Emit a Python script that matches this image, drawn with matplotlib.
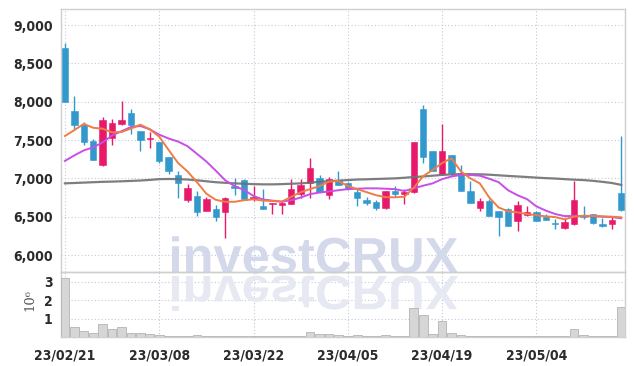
import numpy as np
import matplotlib.pyplot as plt
from matplotlib import font_manager
from matplotlib.textpath import TextPath
from matplotlib.patches import PathPatch
from matplotlib.font_manager import FontProperties
from matplotlib.transforms import Affine2D, IdentityTransform
from matplotlib.ticker import FuncFormatter

# trading days (KRX), yy/mm/dd
dates = ['23/02/21', '23/02/22', '23/02/23', '23/02/24', '23/02/27', '23/02/28',
         '23/03/02', '23/03/03', '23/03/06', '23/03/07', '23/03/08', '23/03/09',
         '23/03/10', '23/03/13', '23/03/14', '23/03/15', '23/03/16', '23/03/17',
         '23/03/20', '23/03/21', '23/03/22', '23/03/23', '23/03/24', '23/03/27',
         '23/03/28', '23/03/29', '23/03/30', '23/03/31', '23/04/03', '23/04/04',
         '23/04/05', '23/04/06', '23/04/07', '23/04/10', '23/04/11', '23/04/12',
         '23/04/13', '23/04/14', '23/04/17', '23/04/18', '23/04/19', '23/04/20',
         '23/04/21', '23/04/24', '23/04/25', '23/04/26', '23/04/27', '23/04/28',
         '23/05/02', '23/05/03', '23/05/04', '23/05/08', '23/05/09', '23/05/10',
         '23/05/11', '23/05/12', '23/05/15', '23/05/16', '23/05/17', '23/05/18']

opens = [8700, 7880, 7690, 7490, 7170, 7530, 7710, 7850, 7620, 7510,
         7480, 7280, 7050, 6720, 6770, 6580, 6600, 6560, 6900, 6980,
         6730, 6640, 6660, 6650, 6670, 6800, 6940, 7000, 6780, 6980,
         6940, 6820, 6720, 6690, 6610, 6840, 6790, 6820, 7910, 7360,
         7060, 7300, 7070, 6830, 6620, 6700, 6570, 6600, 6450, 6520,
         6560, 6500, 6420, 6350, 6400, 6510, 6530, 6400, 6400, 6810]
highs = [8760, 8080, 7730, 7520, 7800, 7780, 8010, 7910, 7620, 7600,
         7480, 7280, 7090, 6930, 6840, 6760, 6650, 6760, 7010, 6990,
         6900, 6860, 6680, 6720, 6990, 6990, 7270, 7040, 7020, 7090,
         6950, 6860, 6760, 6720, 6830, 6900, 6860, 7480, 7960, 7360,
         7710, 7310, 7180, 6960, 6740, 6730, 6570, 6610, 6710, 6640,
         6580, 6540, 6470, 6470, 6960, 6640, 6540, 6480, 6490, 7550]
lows = [8000, 7650, 7440, 7240, 7160, 7430, 7700, 7580, 7360, 7400,
        7200, 7060, 6750, 6690, 6510, 6570, 6440, 6220, 6780, 6730,
        6700, 6600, 6540, 6530, 6670, 6750, 6750, 6820, 6730, 6920,
        6850, 6640, 6650, 6590, 6600, 6760, 6670, 6810, 7200, 7090,
        7050, 7030, 6830, 6680, 6570, 6510, 6250, 6380, 6310, 6510,
        6440, 6460, 6340, 6340, 6390, 6470, 6400, 6360, 6340, 6580]
closes = [8000, 7690, 7470, 7240, 7760, 7720, 7760, 7700, 7500, 7530,
          7230, 7090, 6940, 6880, 6560, 6730, 6500, 6750, 6880, 6730,
          6750, 6600, 6680, 6680, 6860, 6910, 7140, 6820, 6990, 6920,
          6860, 6750, 6680, 6620, 6830, 6800, 6820, 7470, 7280, 7100,
          7360, 7070, 6830, 6680, 6710, 6510, 6500, 6380, 6650, 6560,
          6440, 6460, 6400, 6430, 6720, 6500, 6420, 6380, 6460, 6590]

ma_short = [7553, 7630, 7710, 7660, 7648, 7600, 7605, 7650, 7700, 7640,
            7544, 7370, 7200, 7090, 6950, 6800, 6720, 6695, 6695, 6715,
            6727, 6710, 6705, 6696, 6760, 6820, 6860, 6900, 6957, 6966,
            6900, 6860, 6820, 6780, 6755, 6753, 6760, 6880, 7030, 7110,
            7200, 7262, 7090, 7000, 6935, 6750, 6620, 6570, 6557, 6535,
            6520, 6505, 6495, 6466, 6500, 6513, 6509, 6505, 6500, 6492]
ma_mid = [7228, 7300, 7365, 7405, 7470, 7560, 7615, 7670, 7683, 7640,
          7570, 7520, 7480, 7420, 7320, 7220, 7100, 6975, 6900, 6848,
          6770, 6725, 6710, 6696, 6715, 6750, 6795, 6815, 6830, 6845,
          6860, 6865, 6870, 6870, 6865, 6860, 6835, 6870, 6905, 6935,
          6990, 7025, 7044, 7044, 7035, 6995, 6950, 6845, 6780, 6730,
          6635, 6580, 6535, 6508, 6509, 6509, 6507, 6500, 6495, 6480]
ma_long = [6935, 6940, 6945, 6950, 6955, 6958, 6962, 6967, 6972, 6980,
           6990, 6992, 6990, 6985, 6975, 6962, 6950, 6942, 6935, 6930,
           6925, 6922, 6922, 6925, 6930, 6935, 6945, 6955, 6965, 6970,
           6978, 6985, 6988, 6992, 6996, 7000, 7008, 7018, 7025, 7035,
           7045, 7052, 7055, 7055, 7053, 7048, 7040, 7032, 7025, 7018,
           7010, 7003, 6998, 6990, 6983, 6978, 6968, 6955, 6940, 6915]

# volume in millions of shares
volume = [3.24, 0.54, 0.31, 0.20, 0.70, 0.42, 0.54, 0.20, 0.20, 0.15,
          0.13, 0.07, 0.04, 0.04, 0.09, 0.03, 0.03, 0.04, 0.03, 0.03,
          0.03, 0.03, 0.03, 0.03, 0.07, 0.03, 0.25, 0.17, 0.17, 0.11,
          0.06, 0.09, 0.04, 0.04, 0.09, 0.04, 0.04, 1.58, 1.21, 0.17,
          0.88, 0.22, 0.09, 0.05, 0.04, 0.04, 0.03, 0.03, 0.03, 0.03,
          0.03, 0.03, 0.03, 0.03, 0.44, 0.11, 0.06, 0.05, 0.03, 1.64]

price_ticks = [6000, 6500, 7000, 7500, 8000, 8500, 9000]
vol_ticks = [1, 2, 3]

UP = '#e8186a'
DOWN = '#3399cc'
GRID = '#c3c8dc'
TXT = '#2b2b2b'

# pick a narrow font for the tick labels if one is installed
fonts = font_manager.fontManager.ttflist
names = {f.name for f in fonts}
if 'Liberation Sans Narrow' in names:
    tick_kw = dict(family=['Liberation Sans Narrow', 'DejaVu Sans'], weight='bold',
                   size=11)
elif any(f.name == 'DejaVu Sans' and f.stretch == 'condensed' for f in fonts):
    tick_kw = dict(family=['DejaVu Sans'], stretch='condensed', weight='bold', size=10)
else:
    tick_kw = dict(family=['Roboto', 'DejaVu Sans'], weight='medium', size=10.5)

fig = plt.figure(figsize=(6.34, 3.66), dpi=100)
ax = fig.add_axes([61 / 634, 1 - 272 / 366, 564 / 634, 263 / 366])
axv = fig.add_axes([61 / 634, 1 - 337 / 366, 564 / 634, 65 / 366], sharex=ax)

x = np.arange(len(dates))
o = np.array(opens)
c = np.array(closes)
colors = [UP if cc >= oo else DOWN for oo, cc in zip(o, c)]

# candles
ax.vlines(x, lows, highs, colors=colors, linewidth=1.0, zorder=3)
body_low = np.minimum(o, c)
body_h = np.maximum(np.abs(c - o), 22)
ax.bar(x, body_h, bottom=body_low, width=0.68, color=colors, edgecolor=colors,
       linewidth=0.4, zorder=4)

# moving averages
ax.plot(x, ma_long, color='#707070', linewidth=1.6, alpha=0.9, zorder=5)
ax.plot(x, ma_mid, color='#c84ee8', linewidth=1.4, zorder=5)
ax.plot(x, ma_short, color='#ee7d45', linewidth=1.4, zorder=6)

ax.set_xlim(-0.42, 59.4)
ax.set_ylim(5779, 9209)
ax.set_yticks(price_ticks)
ax.yaxis.set_major_formatter(FuncFormatter(lambda v, p: f'{int(v):,}'))

# volume
axv.bar(x, volume, width=0.92, color='#d6d6d6', edgecolor='#b4b4b4',
        linewidth=0.6, zorder=3)
axv.set_ylim(0, 3.54)
axv.set_yticks(vol_ticks)
axv.set_xticks(x[::10])
axv.set_xticklabels(dates[::10])

for a in (ax, axv):
    a.grid(True, color=GRID, linestyle=(0, (1, 2)), linewidth=0.8, zorder=0)
    a.set_axisbelow(True)
    for s in a.spines.values():
        s.set_color('#cfcfcf')
        s.set_linewidth(1.0)
    a.tick_params(length=0, pad=6, labelcolor=TXT)
    for lab in a.get_yticklabels() + a.get_xticklabels():
        lab.set(**tick_kw)
ax.tick_params(labelbottom=False)
axv.tick_params(axis='x', pad=8)
axv.patch.set_alpha(0)

fig.text(30 / 634, 1 - 300 / 366, '10⁶', rotation=90, ha='center', va='center',
         family='DejaVu Serif', fontsize=9.5, color='#555555')

# watermark and its reflection
fp = FontProperties(family=['Liberation Sans', 'DejaVu Sans'], weight='bold')
tp = TextPath((0, 0), 'investCRUX', size=50, prop=fp)
ext = tp.get_extents()
sc = 286 / ext.width
base = 366 - 273
wm = Affine2D().translate(-ext.x0, 0).scale(sc, sc).translate(172, base)
ax.add_patch(PathPatch(wm.transform_path(tp), facecolor='#d3d8ea', edgecolor='none',
                       transform=IdentityTransform(), clip_on=False, zorder=1))
rf = Affine2D().translate(-ext.x0, 0).scale(sc, -sc * 0.95).translate(172, base - 3)
axv.add_patch(PathPatch(rf.transform_path(tp), facecolor='#e6e9f2', edgecolor='none',
                        transform=IdentityTransform(), clip_on=False, zorder=1))

fig.savefig('out.png', dpi=100)
